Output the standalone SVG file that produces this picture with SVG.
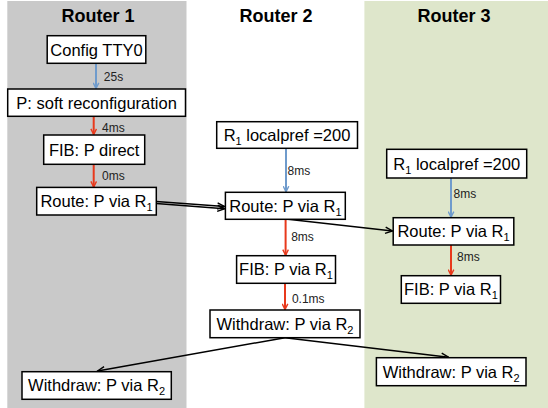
<svg xmlns="http://www.w3.org/2000/svg" width="548" height="408" viewBox="0 0 548 408">
  <defs>
    <style>
      .lane-title { font-family: "Liberation Sans", Arial, sans-serif; font-weight: bold; font-size: 18px; fill: #000; text-anchor: middle; }
      .box { fill: #fff; stroke: #000; stroke-width: 1.5; }
      .lbl { font-family: "Liberation Sans", Arial, sans-serif; font-size: 16.5px; fill: #000; text-anchor: middle; }
      .sub { font-size: 11px; }
      .delay { font-family: "Liberation Sans", Arial, sans-serif; font-size: 12px; fill: #222; }
      .blue { stroke: #6f9bcc; stroke-width: 2; fill: none; marker-end: url(#ah-blue); }
      .red { stroke: #e8391c; stroke-width: 2; fill: none; marker-end: url(#ah-red); }
      .msg { stroke: #000; stroke-width: 1.5; fill: none; marker-end: url(#ah-black); }
    </style>
    <marker id="ah-black" viewBox="0 0 10 10" refX="9" refY="5" markerWidth="9" markerHeight="9" orient="auto" markerUnits="userSpaceOnUse">
      <path d="M1,1.5 L9,5 L1,8.5" fill="none" stroke="#000" stroke-width="1.6"/>
    </marker>
    <marker id="ah-blue" viewBox="0 0 10 10" refX="9" refY="5" markerWidth="7" markerHeight="7" orient="auto" markerUnits="userSpaceOnUse">
      <path d="M1,1 L9,5 L1,9" fill="none" stroke="#6f9bcc" stroke-width="2"/>
    </marker>
    <marker id="ah-red" viewBox="0 0 10 10" refX="9" refY="5" markerWidth="7" markerHeight="7" orient="auto" markerUnits="userSpaceOnUse">
      <path d="M1,1 L9,5 L1,9" fill="none" stroke="#e8391c" stroke-width="2"/>
    </marker>
  </defs>

  <!-- swim lanes -->
  <rect x="0" y="0" width="548" height="408" fill="#fff"/>
  <rect x="7.3" y="1" width="179.2" height="407" fill="#c9c9c9"/>
  <rect x="364.4" y="1" width="183.6" height="407" fill="#dee6cb"/>
  <text class="lane-title" x="98" y="21.7">Router 1</text>
  <text class="lane-title" x="276" y="21.7">Router 2</text>
  <text class="lane-title" x="454" y="21.7">Router 3</text>

  <!-- connectors -->
  <g id="connectors">
    <line class="blue" x1="96" y1="63.3" x2="96" y2="88.5"/>
    <line class="red" x1="93.7" y1="116.3" x2="93.7" y2="134.5"/>
    <line class="red" x1="93.7" y1="164.3" x2="93.7" y2="187"/>
    <line class="blue" x1="286" y1="148.3" x2="286" y2="191.8"/>
    <line class="red" x1="285.6" y1="219.3" x2="285.6" y2="255.2"/>
    <line class="red" x1="285" y1="283.3" x2="285" y2="309.5"/>
    <line class="blue" x1="451" y1="178" x2="451" y2="217.2"/>
    <line class="red" x1="451" y1="245" x2="451" y2="275.2"/>
    <line class="msg" x1="156.3" y1="201.5" x2="224.6" y2="206.5"/>
    <line class="msg" x1="156.3" y1="203.5" x2="224.6" y2="208.8"/>
    <line class="msg" x1="288" y1="219.3" x2="392.5" y2="231"/>
    <line class="msg" x1="285" y1="337.7" x2="97.5" y2="371"/>
    <line class="msg" x1="285" y1="337.7" x2="448.5" y2="357.2"/>
    <text class="delay" x="103.8" y="81">25s</text>
    <text class="delay" x="102" y="132">4ms</text>
    <text class="delay" x="102" y="180">0ms</text>
    <text class="delay" x="287.6" y="175">8ms</text>
    <text class="delay" x="291.2" y="241">8ms</text>
    <text class="delay" x="291.9" y="302.7">0.1ms</text>
    <text class="delay" x="453.5" y="198.3">8ms</text>
    <text class="delay" x="457" y="261">8ms</text>
  </g>

  <!-- Router 1 -->
  <g id="r1-config">
    <rect class="box" x="47.2" y="35.7" width="98.6" height="27.6"/>
    <text class="lbl" x="96.5" y="55.6">Config TTY0</text>
  </g>
  <g id="r1-soft">
    <rect class="box" x="7.7" y="89" width="177.8" height="27.3"/>
    <text class="lbl" x="96.6" y="108.7">P: soft reconfiguration</text>
  </g>
  <g id="r1-fib">
    <rect class="box" x="43.7" y="135" width="101" height="29.3"/>
    <text class="lbl" x="94.2" y="155.7">FIB: P direct</text>
  </g>
  <g id="r1-route">
    <rect class="box" x="36.7" y="187.4" width="119.6" height="27.6"/>
    <text class="lbl" x="96.5" y="207.3">Route: P via R<tspan class="sub" dy="4">1</tspan></text>
  </g>
  <g id="r1-withdraw">
    <rect class="box" x="22" y="371.7" width="149.3" height="27.6"/>
    <text class="lbl" x="96.6" y="391.4">Withdraw: P via R<tspan class="sub" dy="4">2</tspan></text>
  </g>

  <!-- Router 2 -->
  <g id="r2-pref">
    <rect class="box" x="216.7" y="121.7" width="140.8" height="26.6"/>
    <text class="lbl" x="287" y="140.9"><tspan>R</tspan><tspan class="sub" dy="4">1</tspan><tspan dy="-4"> localpref =200</tspan></text>
  </g>
  <g id="r2-route">
    <rect class="box" x="225.4" y="192.3" width="119.9" height="27"/>
    <text class="lbl" x="285.4" y="211.9">Route: P via R<tspan class="sub" dy="4">1</tspan></text>
  </g>
  <g id="r2-fib">
    <rect class="box" x="236.6" y="255.7" width="98.9" height="27.6"/>
    <text class="lbl" x="286" y="275.4">FIB: P via R<tspan class="sub" dy="4">1</tspan></text>
  </g>
  <g id="r2-withdraw">
    <rect class="box" x="210" y="310" width="150" height="27.7"/>
    <text class="lbl" x="285" y="329.7">Withdraw: P via R<tspan class="sub" dy="4">2</tspan></text>
  </g>

  <!-- Router 3 -->
  <g id="r3-pref">
    <rect class="box" x="386.7" y="149.3" width="140" height="28.7"/>
    <text class="lbl" x="456.7" y="169.5"><tspan>R</tspan><tspan class="sub" dy="4">1</tspan><tspan dy="-4"> localpref =200</tspan></text>
  </g>
  <g id="r3-route">
    <rect class="box" x="393.2" y="217.7" width="120.6" height="27.3"/>
    <text class="lbl" x="453.5" y="237.4">Route: P via R<tspan class="sub" dy="4">1</tspan></text>
  </g>
  <g id="r3-fib">
    <rect class="box" x="401.3" y="275.7" width="99.2" height="27.6"/>
    <text class="lbl" x="450.9" y="295.4">FIB: P via R<tspan class="sub" dy="4">1</tspan></text>
  </g>
  <g id="r3-withdraw">
    <rect class="box" x="376.4" y="357.7" width="149.6" height="28"/>
    <text class="lbl" x="451.2" y="377.6">Withdraw: P via R<tspan class="sub" dy="4">2</tspan></text>
  </g>
</svg>
